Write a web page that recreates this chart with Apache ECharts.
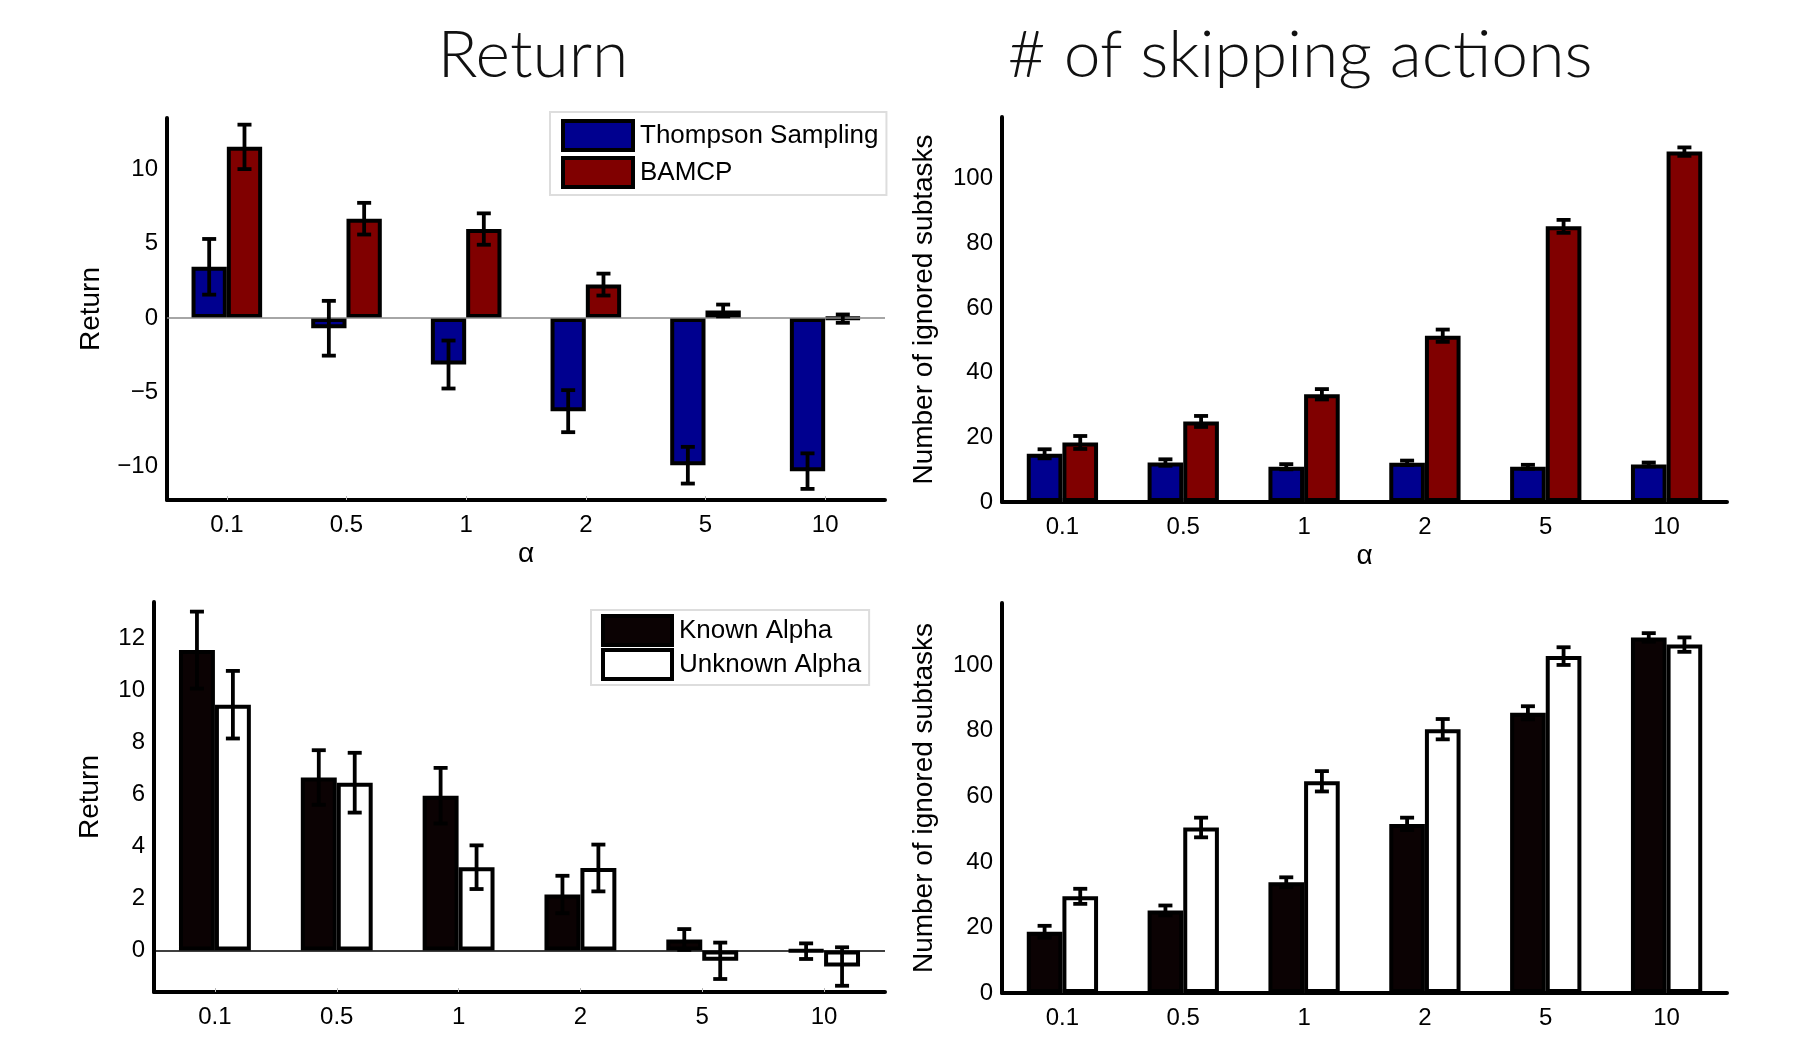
<!DOCTYPE html>
<html>
<head>
<meta charset="utf-8">
<script src="https://cdn.jsdelivr.net/npm/echarts@6/dist/echarts.min.js"></script>
<style>html,body{margin:0;padding:0;background:#fff;}#c{width:1796px;height:1037px;}</style>
</head>
<body>
<div id="c"></div>
<script>
// ---- data ----
const categories = ['0.1', '0.5', '1', '2', '5', '10'];
const retTS = [3.45, -0.7, -3.15, -6.3, -9.95, -10.35];
const retTSErr = [1.88, 1.85, 1.62, 1.42, 1.24, 1.2];
const retBAMCP = [11.55, 6.7, 6.0, 2.25, 0.5, -0.05];
const retBAMCPErr = [1.5, 1.07, 1.06, 0.74, 0.4, 0.28];
const skipTS = [14.9, 12.2, 10.9, 12.1, 10.9, 11.6];
const skipTSErr = [1.4, 1.0, 0.8, 0.7, 0.6, 0.6];
const skipBAMCP = [18.4, 24.9, 33.3, 51.4, 85.2, 108.3];
const skipBAMCPErr = [2.0, 1.7, 1.6, 1.9, 2.0, 1.3];
const retKnown = [11.55, 6.65, 5.95, 2.15, 0.42, -0.03];
const retKnownErr = [1.48, 1.05, 1.07, 0.72, 0.4, 0.3];
const retUnknown = [9.45, 6.45, 3.2, 3.17, -0.4, -0.62];
const retUnknownErr = [1.3, 1.15, 0.84, 0.9, 0.7, 0.74];
const skipKnown = [18.7, 25.2, 33.8, 51.6, 85.5, 108.5];
const skipKnownErr = [1.8, 1.5, 1.5, 1.9, 2.0, 1.3];
const skipUnknown = [29.5, 50.5, 64.6, 80.5, 102.8, 106.3];
const skipUnknownErr = [2.3, 3.0, 3.1, 3.1, 2.7, 2.2];
const legendTop = ['Thompson Sampling', 'BAMCP'];
const legendBottom = ['Known Alpha', 'Unknown Alpha'];

// ---- styling ----
const FONT = 'Liberation Sans, Arial, sans-serif';
const BAR_FRAC = 0.295;
const C_TS = '#00008F', C_BA = '#800000', C_KN = '#0b0203', C_UN = '#ffffff';

function barSeries(name, g, vals, color, zeroLine) {
  const s = {
    type: 'bar', name, xAxisIndex: g, yAxisIndex: g, data: vals,
    barWidth: (BAR_FRAC * 100) + '%', barGap: '0%',
    itemStyle: { color, borderColor: '#000', borderWidth: 4 },
    emphasis: { disabled: true }, z: 2
  };
  if (zeroLine) {
    s.markLine = {
      silent: true, symbol: 'none', label: { show: false },
      lineStyle: { color: zeroLine, width: 1.5, type: 'solid' },
      data: [{ yAxis: 0 }], animation: false
    };
  }
  return s;
}
function errSeries(g, vals, errs, side) {
  return {
    type: 'custom', xAxisIndex: g, yAxisIndex: g, z: 10, silent: true,
    data: vals.map((v, i) => [i, v - errs[i], v + errs[i]]),
    encode: { x: 0, y: [1, 2] },
    renderItem(params, api) {
      const i = api.value(0);
      const lo = api.coord([i, api.value(1)]);
      const hi = api.coord([i, api.value(2)]);
      const band = api.size([1, 0])[0];
      const x = lo[0] + side * band * BAR_FRAC / 2;
      const cap = 7;
      const style = { stroke: '#000', lineWidth: 3.8, fill: null };
      return { type: 'group', children: [
        { type: 'line', shape: { x1: x, y1: lo[1], x2: x, y2: hi[1] }, style },
        { type: 'line', shape: { x1: x - cap, y1: lo[1], x2: x + cap, y2: lo[1] }, style },
        { type: 'line', shape: { x1: x - cap, y1: hi[1], x2: x + cap, y2: hi[1] }, style }
      ] };
    }
  };
}
function xAxis(g, withName) {
  const a = {
    type: 'category', gridIndex: g, data: categories,
    axisLine: { onZero: false, lineStyle: { color: '#000', width: 4 } },
    axisTick: { show: true, inside: true, alignWithLabel: true, length: 4, lineStyle: { color: '#bbb', width: 1 } },
    axisLabel: { fontSize: 24, color: '#000', margin: 13, fontFamily: FONT }
  };
  if (withName) {
    a.name = 'α'; a.nameLocation = 'middle'; a.nameGap = 40;
    a.nameTextStyle = { fontSize: 28, color: '#000', fontFamily: FONT };
  }
  return a;
}
function yAxis(g, name, nameGap, min, max, showMin, extra) {
  return Object.assign({
    type: 'value', gridIndex: g, min, max,
    splitLine: { show: false },
    axisLine: { show: true, onZero: false, lineStyle: { color: '#000', width: 4 } },
    axisTick: { show: false },
    axisLabel: {
      fontSize: 24, color: '#000', margin: 9, fontFamily: FONT,
      showMinLabel: showMin, showMaxLabel: false,
      formatter: v => String(v).replace('-', '\u2212')
    },
    name, nameLocation: 'middle', nameGap,
    nameTextStyle: { fontSize: 28, color: '#000', fontFamily: FONT }
  }, extra);
}

const chart = echarts.init(document.getElementById('c'));
chart.setOption({
  animation: false,
  backgroundColor: '#fff',
  graphic: [
    { type: 'text', x: 533, y: 56, style: { text: 'Return', fill: '#111', font: '300 66px Lato', textAlign: 'center', textVerticalAlign: 'middle', align: 'center', verticalAlign: 'middle' } },
    { type: 'text', x: 1300, y: 56, style: { text: '# of skipping actions', fill: '#111', font: '300 66px Lato', textAlign: 'center', textVerticalAlign: 'middle', align: 'center', verticalAlign: 'middle' } }
  ],
  grid: [
    { left: 167, top: 118, width: 718, height: 382 },
    { left: 1002, top: 117, width: 725, height: 385 },
    { left: 154, top: 602, width: 731, height: 390 },
    { left: 1002, top: 603, width: 725, height: 390 }
  ],
  legend: [
    {
      data: legendTop, orient: 'vertical', left: 550, top: 112,
      padding: [7, 8, 6, 11], itemGap: 4, itemWidth: 70, itemHeight: 29, icon: 'rect',
      backgroundColor: '#fff', borderColor: '#ddd', borderWidth: 2, selectedMode: false,
      textStyle: { fontSize: 26, color: '#000', fontFamily: FONT, lineHeight: 29, padding: [0, 0, 0, 2] },
      itemStyle: { borderColor: '#000', borderWidth: 4 }
    },
    {
      data: legendBottom, orient: 'vertical', left: 591, top: 610,
      padding: [4, 8, 4, 10], itemGap: 1, itemWidth: 69, itemHeight: 29, icon: 'rect',
      backgroundColor: '#fff', borderColor: '#ddd', borderWidth: 2, selectedMode: false,
      textStyle: { fontSize: 26, color: '#000', fontFamily: FONT, lineHeight: 29, padding: [0, 0, 0, 2] },
      itemStyle: { borderColor: '#000', borderWidth: 4 }
    }
  ],
  xAxis: [xAxis(0, true), xAxis(1, true), xAxis(2, false), xAxis(3, false)],
  yAxis: [
    yAxis(0, 'Return', 62, -12.3, 13.5, false, { splitNumber: 5 }),
    yAxis(1, 'Number of ignored subtasks', 64, 0, 119, true, { interval: 20 }),
    yAxis(2, 'Return', 50, -1.6, 13.4, false, { splitNumber: 7 }),
    yAxis(3, 'Number of ignored subtasks', 64, 0, 119, true, { interval: 20 })
  ],
  series: [
    barSeries('Thompson Sampling', 0, retTS, C_TS, '#888'),
    barSeries('BAMCP', 0, retBAMCP, C_BA),
    barSeries('Thompson Sampling', 1, skipTS, C_TS),
    barSeries('BAMCP', 1, skipBAMCP, C_BA),
    barSeries('Known Alpha', 2, retKnown, C_KN, '#000'),
    barSeries('Unknown Alpha', 2, retUnknown, C_UN),
    barSeries('Known Alpha', 3, skipKnown, C_KN),
    barSeries('Unknown Alpha', 3, skipUnknown, C_UN),
    errSeries(0, retTS, retTSErr, -1),
    errSeries(0, retBAMCP, retBAMCPErr, 1),
    errSeries(1, skipTS, skipTSErr, -1),
    errSeries(1, skipBAMCP, skipBAMCPErr, 1),
    errSeries(2, retKnown, retKnownErr, -1),
    errSeries(2, retUnknown, retUnknownErr, 1),
    errSeries(3, skipKnown, skipKnownErr, -1),
    errSeries(3, skipUnknown, skipUnknownErr, 1)
  ]
});
</script>
</body>
</html>
